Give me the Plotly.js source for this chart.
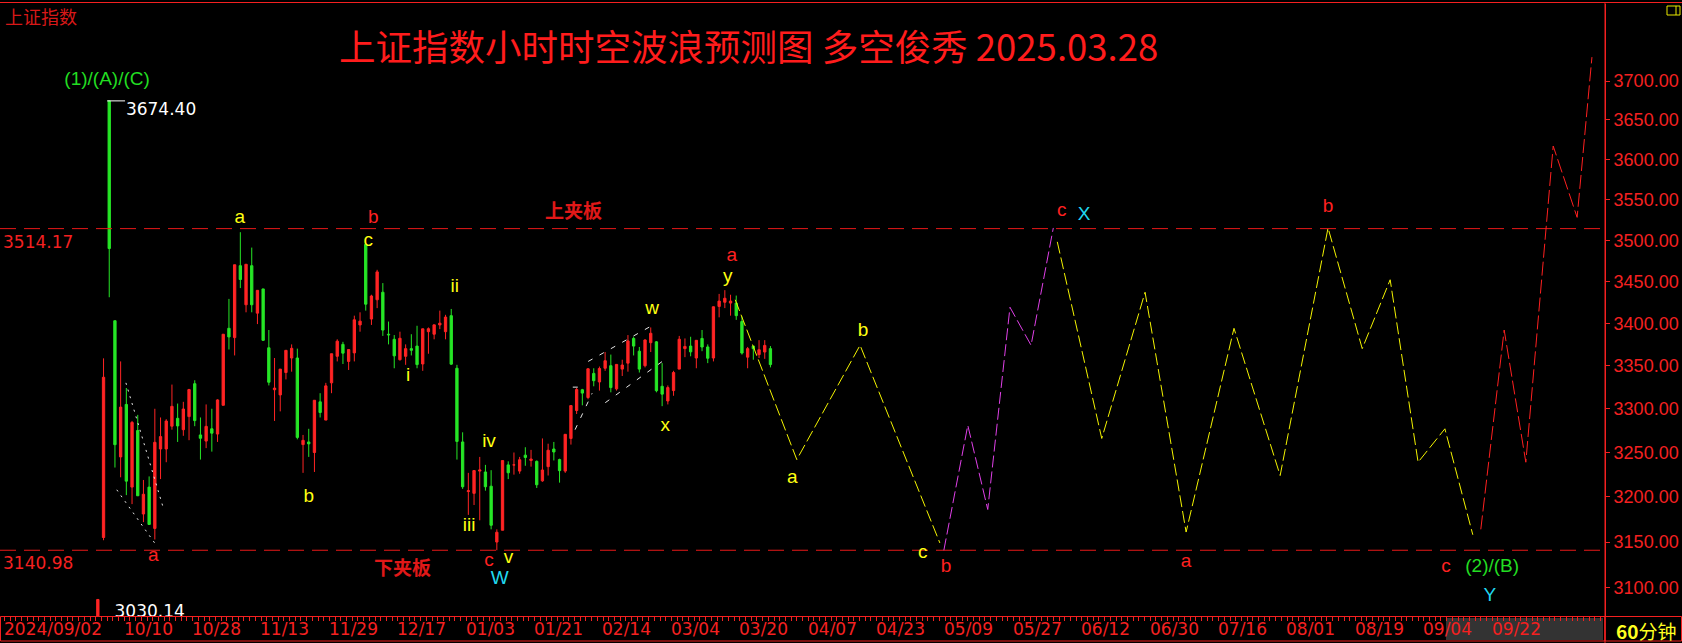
<!DOCTYPE html>
<html><head><meta charset="utf-8">
<script src="https://cdn.plot.ly/plotly-3.0.1.min.js"></script>
<style>html,body{margin:0;padding:0;background:#000;overflow:hidden}#chart{width:1682px;height:643px}</style>
</head><body><div id="chart"></div>
<script>
// ================= DATA =================
// trading-day index of the first bar (2024/09/27), counted from 2024/09/02 = 0
const firstDayIndex = 17;
const dates = ['09/27','09/30','10/08','10/09','10/10','10/11','10/14','10/15','10/16','10/17','10/18','10/21','10/22','10/23','10/24','10/25','10/28','10/29','10/30','10/31',
'11/01','11/04','11/05','11/06','11/07','11/08','11/11','11/12','11/13','11/14','11/15','11/18','11/19','11/20','11/21','11/22','11/25','11/26','11/27','11/28','11/29',
'12/02','12/03','12/04','12/05','12/06','12/09','12/10','12/11','12/12','12/13','12/16','12/17','12/18','12/19','12/20','12/23','12/24','12/25','12/26','12/27','12/30','12/31',
'01/02','01/03','01/06','01/07','01/08','01/09','01/10','01/13','01/14','01/15','01/16','01/17','01/20','01/21','01/22','01/23','01/24','01/27',
'02/05','02/06','02/07','02/10','02/11','02/12','02/13','02/14','02/17','02/18','02/19','02/20','02/21','02/24','02/25','02/26','02/27','02/28',
'03/03','03/04','03/05','03/06','03/07','03/10','03/11','03/12','03/13','03/14','03/17','03/18','03/19','03/20','03/21','03/24','03/25','03/26','03/27','03/28'];
const open = [3049,3155,3674.4,3403,3245,3305,3211,3275,3181,3211,3165,3254,3254,3280,3289,3276,3291,3329,3270,3263,
3277,3271,3304,3394,3383,3469,3422,3469,3412,3441,3371,3322,3316,3342,3359,3359,3259,3262,3250,3308,3287,
3330,3361,3375,3355,3365,3398,3494.9,3405,3428,3437,3387,3381,3357,3361,3370,3373,3352,3390,3387,3398,3390,3409,
3347,3262,3206,3204,3229,3228,3212,3150,3163,3236,3236,3229,3247,3241,3240,3218,3234,3254,
3242,3229,3266,3298,3322,3313,3341,3331,3347,3350,3323,3346,3353,3382,3367,3350,3377,3378,
3326,3309,3321,3346,3370,3373,3359,3382,3372,3359,3420,3425,3424,3424,3402,3360,3373,3363,3366,3370];
const high = [3087.5,3358.6,3674.4,3403,3355,3324,3286,3293,3219,3223,3300,3290,3288,3328,3306,3308,3323,3333,3290,3305,
3300,3311,3387,3429,3470,3509.8,3471,3491,3439,3441,3392,3359,3346,3368,3375,3370,3270,3277,3310,3318,3330,
3364,3381,3378,3369,3409,3413,3494.9,3434,3464,3448,3402,3386,3390,3375,3387,3397,3393,3395,3398,3415,3410,3417,
3351,3273,3227,3230,3245,3236,3230,3164,3241,3240,3250,3245,3256,3253,3241,3266,3260,3262,
3243,3271,3304,3324,3323,3347,3347,3349,3366,3363,3352,3357,3386,3384,3372,3381,3395,3379,
3353,3327,3344,3385,3382,3384,3380,3392,3375,3420,3435,3439.5,3434,3433,3408,3372,3373,3380,3380,3373];
const low = [3030.14,3152,3431,3233,3222,3202,3192,3201,3172,3169,3152.8,3220,3239,3276,3262,3269,3264,3280,3242,3255,
3251,3262,3304,3369,3362,3442,3413,3413,3399,3379,3327,3286,3297,3334,3343,3265,3227,3245,3228,3290,3287,
3318,3355,3352,3345,3355,3390,3415,3398,3418,3385,3375,3347,3356,3351,3362,3347,3344,3364,3381,3393,3381,3351,
3242,3209,3180,3191,3174,3207,3164,3140.98,3163,3220,3225,3226,3235,3234,3210,3217,3224,3241,
3216,3227,3259,3294,3304,3311,3326,3321,3344,3319,3321,3338,3343,3362,3342,3348,3366,3319,
3303,3305,3315,3346,3360,3361,3347,3367,3353,3355,3407,3418,3409,3404,3363,3347,3357,3359,3358,3348];
const close = [3087.5,3336.5,3489.8,3258.9,3301.9,3217.7,3284.3,3201.3,3203.0,3169.4,3261.6,3268.1,3285.9,3302.8,3280.3,3299.7,3322.2,3286.4,3266.2,3279.8,
3272.0,3310.2,3387.0,3383.8,3470.1,3452.3,3470.7,3422.0,3439.3,3379.8,3330.7,3323.9,3346.0,3368.0,3370.4,3267.2,3263.8,3259.8,3309.8,3295.7,3326.5,
3364.0,3378.8,3364.7,3368.9,3404.1,3402.5,3422.7,3432.5,3461.5,3391.9,3386.3,3361.5,3382.2,3370.0,3368.1,3351.3,3393.4,3393.5,3398.1,3400.1,3407.3,3351.8,
3262.6,3211.4,3206.9,3229.6,3230.2,3211.4,3168.5,3160.8,3240.9,3227.1,3236.0,3241.8,3244.4,3242.6,3213.6,3230.2,3252.6,3250.6,
3229.5,3270.7,3303.7,3322.2,3318.1,3346.4,3332.5,3346.7,3355.8,3324.5,3351.5,3350.8,3379.1,3373.0,3346.0,3380.2,3388.1,3320.9,
3316.9,3324.5,3342.0,3381.1,3372.6,3366.2,3379.8,3371.9,3358.7,3419.6,3426.4,3429.8,3426.4,3409.0,3364.8,3370.0,3369.9,3368.7,3373.8,3351.3];

// bottom date axis: trading-day index and label
const tickDays = [0,21,33,45,57,69,81,93,105,117,129,141,153,165,177,189,201,213,225,237,249,261];
const tickLabels = ['2024/09/02','10/10','10/28','11/13','11/29','12/17','01/03','01/21','02/14','03/04','03/20',
  '04/07','04/23','05/09','05/27','06/12','06/30','07/16','08/01','08/19','09/04','09/22'];
const priceTicks = [3100,3150,3200,3250,3300,3350,3400,3450,3500,3550,3600,3650,3700];

const upperBand = 3514.17;   // 上夹板
const lowerBand = 3140.98;   // 下夹板

// forecast paths (trading-day index, price)
const fcYellowADay = [129.2,140.0,151.1,165.1];
const fcYellowAPrice = [3428,3242,3374,3149];
const fcMagentaDay = [165.8,170.0,173.5,177.4,181.1,185.0];
const fcMagentaPrice = [3141,3281,3186,3419,3374,3515];
const fcYellowBDay = [185.7,193.5,201.1,208.3,216.7,224.8,233.2,239.2,244.1,249.0,253.7,258.6];
const fcYellowBPrice = [3498,3266,3437,3161,3394,3224,3515,3370,3452,3239,3277,3158];
const fcRedDay = [260.0,264.1,267.9,272.7,276.9,279.5];
const fcRedPrice = [3164,3392,3239,3617,3528,3731];

// white trend lines (pairs of points)
const wedgeDay = [[22.3,28.8],[20.7,27.8]];
const wedgePrice = [[3330,3189],[3208,3145]];
const channelDay = [[101.1,104.1],[103.4,114.8],[106.4,116.4],[100.7,102.3]];
const channelPrice = [[3276,3318],[3355,3398],[3307,3355],[3325,3325]];

// wave labels
const yellowText = ['a','c','b','i','ii','iii','iv','v','w','x','y','a','b','c'];
const yellowDay = [42.3,64.8,54.4,71.8,80.0,82.5,86.0,89.4,114.6,116.9,127.9,139.2,151.6,162.1];
const yellowPrice = [3527,3499,3200,3338,3443,3167,3262,3132,3417,3280,3455,3221,3390,3138];
const redText = ['a','b','c','a','b','c','a','b','c'];
const redDay = [27.1,65.7,86.0,128.6,166.2,186.5,208.3,233.2,253.9];
const redPrice = [3134,3527,3129,3480,3122,3536,3128,3541,3122];
const cyanText = ['W','X','Y'];
const cyanDay = [87.9,190.4,261.6];
const cyanPrice = [3109,3531,3091];
const greenText = ['(1)/(A)/(C)','(2)/(B)'];
const greenDay = [19.0,262.0];
const greenPrice = [3701,3122];

// ================= LAYOUT HELPERS =================
const PLOT_R = 1605, PLOT_T = 4, PLOT_B = 616;
const DAY_PX = 5.7, DAY_OFF = -1.2;
const pxToDay = px => (px - DAY_OFF) / DAY_PX;
const dayToPx = d => DAY_OFF + DAY_PX * d;
const xRange = [pxToDay(0), pxToDay(PLOT_R)];
const yRange = [3.48710, 3.579874];
const paperX = px => px / PLOT_R;
const paperY = py => (PLOT_B - py) / (PLOT_B - PLOT_T);

const RED = '#f42020', UP = '#ff2424', DOWN = '#26e626';
const NUMFONT = 'DejaVu Sans', AXFONT = 'Liberation Sans, Arial, sans-serif', LETFONT = 'Liberation Sans, Arial, sans-serif', CJK = 'Noto Sans CJK SC';

const traces = [];
const barX = dates.map((d, i) => firstDayIndex + i + 0.375);
traces.push({
  type: 'candlestick', x: barX, open: open, high: high, low: low, close: close,
  increasing: {line: {color: UP, width: 1}, fillcolor: UP},
  decreasing: {line: {color: DOWN, width: 1}, fillcolor: DOWN},
  whiskerwidth: 0, hoverinfo: 'skip', showlegend: false
});
[upperBand, lowerBand].forEach(v => traces.push({
  type: 'scatter', mode: 'lines', x: xRange, y: [v, v], cliponaxis: false,
  line: {color: '#e81818', width: 1, dash: '16px,8px'}, hoverinfo: 'skip'
}));
const fc = (d, p, c, dash) => traces.push({type: 'scatter', mode: 'lines', x: d, y: p,
  line: {color: c, width: 1, dash: dash}, hoverinfo: 'skip'});
fc(fcYellowADay, fcYellowAPrice, '#f4f400', '12px,4px');
fc(fcMagentaDay, fcMagentaPrice, '#e040e8', '12px,4px');
fc(fcYellowBDay, fcYellowBPrice, '#f4f400', '12px,4px');
fc(fcRedDay, fcRedPrice, '#ff2020', '14px,4px');
wedgeDay.forEach((d, i) => fc(d, wedgePrice[i], '#e8e8e8', '2px,5px'));
channelDay.forEach((d, i) => fc(d, channelPrice[i], '#e8e8e8', '5px,8px'));

// high marker (white bracket) and low marker
let hiIdx = 0, loIdx = 0;
high.forEach((v, i) => { if (v > high[hiIdx]) hiIdx = i; });
low.forEach((v, i) => { if (v < low[loIdx]) loIdx = i; });
const hiDay = firstDayIndex + hiIdx, loDay = firstDayIndex + loIdx;
traces.push({type: 'scatter', mode: 'lines', x: [hiDay, hiDay + 3.15], y: [high[hiIdx], high[hiIdx]],
  line: {color: '#ffffff', width: 1}, hoverinfo: 'skip'});
const hiLabelY = Math.pow(10, Math.log10(high[hiIdx]) - 10 * (yRange[1] - yRange[0]) / (PLOT_B - PLOT_T));
traces.push({type: 'scatter', mode: 'text', x: [hiDay + 3.3], y: [hiLabelY], text: [high[hiIdx].toFixed(2)],
  textposition: 'middle right', textfont: {family: NUMFONT, size: 17, color: '#ffffff'}, cliponaxis: false, hoverinfo: 'skip'});
const loLabelY = Math.pow(10, yRange[0] + 3 * (yRange[1] - yRange[0]) / (PLOT_B - PLOT_T));
traces.push({type: 'scatter', mode: 'text', x: [loDay + 3.3], y: [loLabelY], text: [low[loIdx].toFixed(2)],
  textposition: 'middle right', textfont: {family: NUMFONT, size: 17, color: '#ffffff'}, cliponaxis: true, hoverinfo: 'skip'});

const lab = (t, d, p, c) => traces.push({type: 'scatter', mode: 'text', x: d, y: p, text: t,
  textposition: 'middle center', textfont: {family: LETFONT, size: 19, color: c}, cliponaxis: false, hoverinfo: 'skip'});
lab(yellowText, yellowDay, yellowPrice, '#ffff10');
lab(redText, redDay, redPrice, '#ff2020');
lab(cyanText, cyanDay, cyanPrice, '#20d8f0');
lab(greenText, greenDay, greenPrice, '#22dd22');

// ================= ANNOTATIONS =================
const ann = [];
ann.push({xref: 'paper', yref: 'paper', x: paperX(748), y: paperY(46), xanchor: 'center', yanchor: 'middle',
  text: '上证指数小时时空波浪预测图 多空俊秀 2025.03.28', showarrow: false,
  font: {family: CJK, size: 36.5, color: '#ff1c1c'}});
ann.push({xref: 'paper', yref: 'paper', x: paperX(3), y: paperY(16), xanchor: 'left', yanchor: 'middle',
  text: '上证指数', showarrow: false, font: {family: CJK, size: 18, color: '#d81818'}});
ann.push({xref: 'paper', yref: 'paper', x: paperX(573), y: paperY(209), xanchor: 'center', yanchor: 'middle',
  text: '<b>上夹板</b>', showarrow: false, font: {family: CJK, size: 19, color: '#e01818'}});
ann.push({xref: 'paper', yref: 'paper', x: paperX(402), y: paperY(566), xanchor: 'center', yanchor: 'middle',
  text: '<b>下夹板</b>', showarrow: false, font: {family: CJK, size: 19, color: '#e01818'}});
[upperBand, lowerBand].forEach(v => ann.push({xref: 'paper', yref: 'y', x: paperX(1), y: Math.log10(v),
  xanchor: 'left', yanchor: 'middle', yshift: -13, text: v.toFixed(2), showarrow: false,
  font: {family: NUMFONT, size: 17, color: RED}}));
tickDays.forEach((d, i) => ann.push({xref: 'paper', yref: 'paper', x: paperX(dayToPx(d) + 3), y: paperY(629),
  xanchor: 'left', yanchor: 'middle', text: tickLabels[i], showarrow: false,
  font: {family: NUMFONT, size: 17, color: RED}}));
ann.push({xref: 'paper', yref: 'paper', x: paperX(1646), y: paperY(630), xanchor: 'center', yanchor: 'middle',
  text: '<b>60</b>分钟', showarrow: false, font: {family: CJK, size: 19, color: '#ffff20'}});

// ================= SHAPES (frame) =================
const shapes = [
  {type: 'rect', xref: 'paper', yref: 'paper', x0: paperX(1446), x1: paperX(1603), y0: paperY(618), y1: paperY(640),
    fillcolor: '#333333', line: {width: 0}, layer: 'below'},
  {type: 'line', xref: 'paper', yref: 'paper', x0: 0, x1: paperX(1682), y0: paperY(2.5), y1: paperY(2.5), line: {color: RED, width: 1}},
  {type: 'rect', xref: 'paper', yref: 'paper', x0: paperX(0.5), x1: 1, y0: paperY(641), y1: paperY(616.5), line: {color: RED, width: 1}},
  {type: 'rect', xref: 'paper', yref: 'paper', x0: 1, x1: paperX(1681.5), y0: paperY(641), y1: paperY(616.5), line: {color: RED, width: 1}},
  {type: 'line', xref: 'paper', yref: 'paper', x0: 1, x1: 1, y0: paperY(2.5), y1: paperY(643), line: {color: RED, width: 1}},
  {type: 'rect', xref: 'paper', yref: 'paper', x0: paperX(1667), x1: paperX(1680), y0: paperY(15), y1: paperY(6), line: {color: '#e8e800', width: 1}},
  {type: 'line', xref: 'paper', yref: 'paper', x0: paperX(1676), x1: paperX(1676), y0: paperY(15), y1: paperY(6), line: {color: '#e8e800', width: 1}}
];

const layout = {
  width: 1682, height: 643,
  margin: {l: 0, r: 1682 - PLOT_R, t: PLOT_T, b: 643 - PLOT_B, pad: 0},
  paper_bgcolor: '#000000', plot_bgcolor: '#000000',
  showlegend: false, hovermode: false, dragmode: false, boxgap: 0.42,
  xaxis: {type: 'linear', range: xRange, showgrid: false, zeroline: false, showline: false,
    rangeslider: {visible: false}, showticklabels: false,
    tickmode: 'linear', tick0: 0, dtick: 1, ticks: 'outside', ticklen: 4, tickwidth: 1, tickcolor: RED},
  yaxis: {type: 'log', side: 'right', range: yRange, showgrid: false, zeroline: false,
    showline: true, linecolor: RED, linewidth: 1,
    tickmode: 'array', tickvals: priceTicks, ticktext: priceTicks.map(v => v.toFixed(2)),
    ticks: 'outside', ticklen: 4, tickcolor: RED, tickfont: {family: AXFONT, size: 18, color: RED}},
  annotations: ann, shapes: shapes
};
Plotly.newPlot('chart', traces, layout, {staticPlot: true, displayModeBar: false});
</script></body></html>
